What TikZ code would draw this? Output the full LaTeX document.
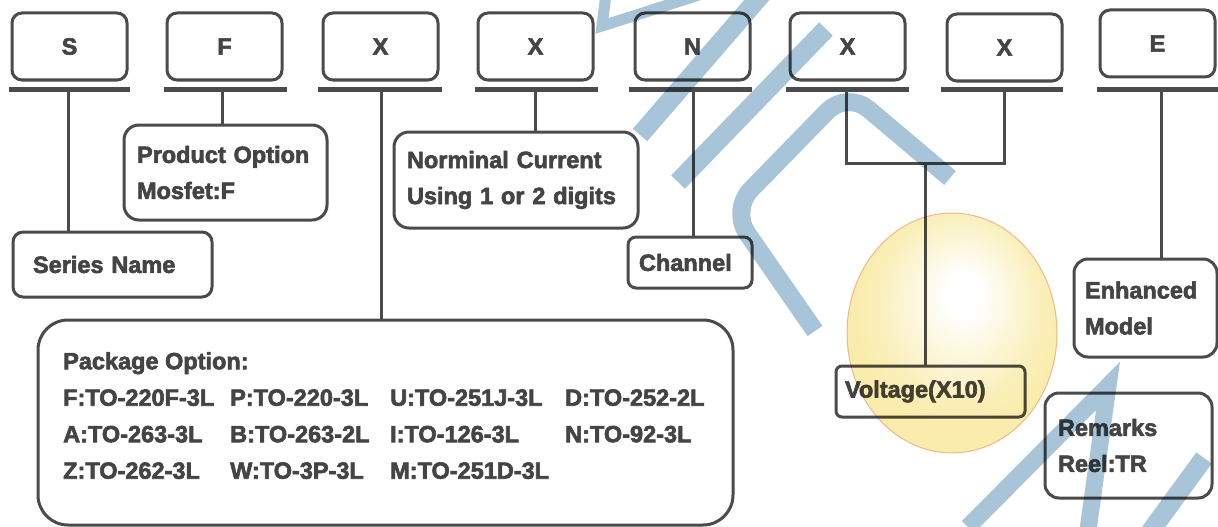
\documentclass[tikz,border=0pt]{standalone}
\usepackage{fontspec}
\setmainfont{Liberation Sans}[BoldFeatures={FakeBold=2.6}]
\definecolor{ink}{HTML}{4B4B4B}
\definecolor{txt}{HTML}{444444}
\definecolor{ylw}{RGB}{249,236,172}
\definecolor{wmblue}{RGB}{168,196,216}
\definecolor{rim}{RGB}{245,194,165}
\pgfdeclareradialshading{vshade}{\pgfpoint{3bp}{9bp}}{color(0bp)=(white); color(4bp)=(white); color(20bp)=(ylw!85!white); color(25bp)=(ylw); color(50bp)=(ylw)}
\begin{document}
\begin{tikzpicture}[x=1pt,y=-1pt,
  letterbox/.style={draw=ink, line width=3pt, rounded corners=10pt, fill=white,
    minimum width=115pt, minimum height=67pt, inner sep=0pt, text=txt,
    font=\fontsize{23.5}{28}\selectfont\bfseries},
  infobox/.style={draw=ink, line width=3pt, fill=white, text=txt, align=left,
    inner ysep=0pt, font=\fontsize{23.5}{36}\selectfont\bfseries},
  bar/.style={draw=ink, line width=5.5pt},
  conn/.style={draw=ink, line width=3pt},
  wm/.style={draw=wmblue, line width=19pt},
]
\useasboundingbox[fill=white] (0,0) rectangle (1218,527);

% top letter boxes
\node[letterbox] (S)  at (69.5,46.5)   {S};
\node[letterbox] (F)  at (224.5,46.5)  {F};
\node[letterbox] (X1) at (380.5,46.5)  {X};
\node[letterbox] (X2) at (535.5,46.5)  {X};
\node[letterbox] (N)  at (692.5,46.5)  {N};
\node[letterbox] (X3) at (847.5,46.5)  {X};
\node[letterbox] (X4) at (1004.5,47.5) {X};
\node[letterbox] (E)  at (1157.5,43.5) {E};

% bars under the letters
\draw[bar] (9,89.5) -- (130,89.5);
\draw[bar] (164,89.5) -- (287,89.5);
\draw[bar] (318,89.5) -- (442,89.5);
\draw[bar] (475,89.5) -- (598,89.5);
\draw[bar] (629,89.5) -- (752,89.5);
\draw[bar] (786,89.5) -- (909,89.5);
\draw[bar] (941,89.5) -- (1063,89.5);
\draw[bar] (1097,89.5) -- (1218,89.5);

\coordinate (bS)  at (68,89.5);
\coordinate (bF)  at (222,89.5);
\coordinate (bX1) at (381,89.5);
\coordinate (bX2) at (535,89.5);
\coordinate (bN)  at (693,89.5);
\coordinate (bX3) at (846,89.5);
\coordinate (bX4) at (1004,89.5);
\coordinate (bE)  at (1161,89.5);
\coordinate (jL) at (846,163);
\coordinate (jR) at (1004,163);
\coordinate (jM) at (925,163);

% description boxes
\node[infobox, rounded corners=10pt, minimum width=199pt, minimum height=65pt,
  inner xsep=20pt, text width=159pt] (series) at (112.5,264.5) {Series Name};
\node[infobox, rounded corners=15pt, minimum width=203pt, minimum height=95pt,
  inner xsep=13pt, text width=177pt] (prod) at (225.5,172.5) {Product Option\\Mosfet:F};
\node[infobox, rounded corners=15pt, minimum width=244pt, minimum height=96pt,
  inner xsep=13pt, text width=218pt] (nom) at (516,180) {Norminal Current\\Using 1 or 2 digits};
\node[infobox, rounded corners=8pt, minimum width=124pt, minimum height=51pt,
  inner xsep=11pt, text width=102pt] (chan) at (690,262.5) {Channel};
\node[infobox, rounded corners=6pt, minimum width=189pt, minimum height=51pt,
  inner xsep=9pt, text width=171pt] (volt) at (930.5,391.5) {Voltage(X10)};
\node[infobox, rounded corners=14pt, minimum width=143pt, minimum height=98pt,
  inner xsep=11pt, text width=121pt] (enh) at (1145.5,308) {Enhanced\\Model};
\node[infobox, rounded corners=14pt, minimum width=167pt, minimum height=105pt,
  inner xsep=13pt, text width=141pt] (rem) at (1128.5,445.5) {Remarks\\Reel:TR};
\node[draw=ink, line width=3pt, fill=white, rounded corners=30pt,
  minimum width=695pt, minimum height=205pt] (pkg) at (385.5,422.5) {};
\node[anchor=north west, inner sep=0pt, text=txt, align=left,
  font=\fontsize{23.5}{36.5}\selectfont\bfseries] (pkgtxt) at (63,352)
  {Package Option:\\\makebox[167pt][l]{F:TO-220F-3L}\makebox[160pt][l]{P:TO-220-3L}\makebox[175pt][l]{U:TO-251J-3L}\makebox[0pt][l]{D:TO-252-2L}\\\makebox[167pt][l]{A:TO-263-3L}\makebox[160pt][l]{B:TO-263-2L}\makebox[175pt][l]{I:TO-126-3L}\makebox[0pt][l]{N:TO-92-3L}\\\makebox[167pt][l]{Z:TO-262-3L}\makebox[160pt][l]{W:TO-3P-3L}\makebox[0pt][l]{M:TO-251D-3L}};

% connectors
\draw[conn] (bS) -- (bS |- series.north);
\draw[conn] (bF) -- (bF |- prod.north);
\draw[conn] (bX1) -- (bX1 |- pkg.north);
\draw[conn] (bX2) -- (bX2 |- nom.north);
\draw[conn] (bN) -- (bN |- chan.north);
\draw[conn] (bX3) -- (jL) -- (jR) -- (bX4);
\draw[conn] (jM) -- (jM |- volt.north);
\draw[conn] (bE) -- (bE |- enh.north);

% overlays
\begin{scope}[blend mode=multiply]
  \shade[shading=vshade] (952,333) ellipse [x radius=105pt, y radius=120pt];
  \draw[draw=rim, line width=1pt] (952,333) ellipse [x radius=105pt, y radius=120pt];
  \draw[wm, line width=11pt] (606,-6) -- (602,26) -- (702,-6);
  \draw[wm] (640,135) -- (762,-6);
  \draw[wm] (678,182) -- (826,29);
  \draw[wm, line width=18pt, rounded corners=28pt] (950,178) -- (847,91) -- (731,210) -- (815,331);
  \draw[wm, line width=17pt] (968,527) -- (1108,386) -- (1088,530);
  \draw[wm] (1204,458) -- (1150,532);
\end{scope}
\end{tikzpicture}
\end{document}
